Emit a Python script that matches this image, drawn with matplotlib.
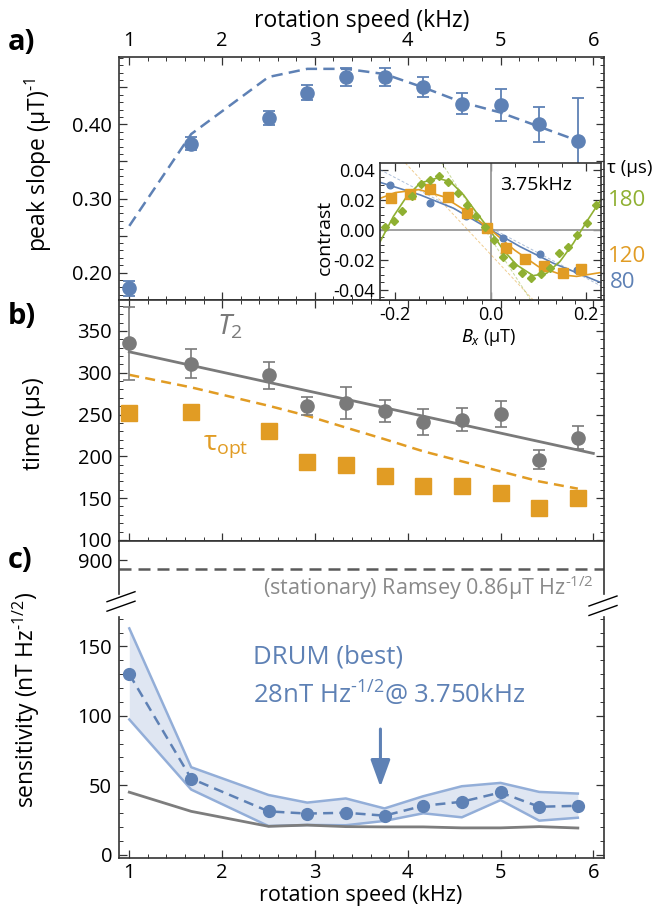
import matplotlib.pyplot as plt
from matplotlib.lines import Line2D
from matplotlib.ticker import FixedLocator, MultipleLocator, FixedFormatter

plt.rcParams['font.family'] = ['Open Sans', 'DejaVu Sans']
plt.rcParams['mathtext.fontset'] = 'custom'
plt.rcParams['mathtext.rm'] = 'Open Sans'
plt.rcParams['mathtext.it'] = 'Noto Sans:italic'
plt.rcParams['axes.unicode_minus'] = False

BLUE = '#5e81b5'
ORANGE = '#e19c24'
GREEN = '#8fb032'
GREY = '#7a7a7a'
FRAME = '#333333'

# rotation speeds (kHz)
speed = [1.0, 1.667, 2.5, 2.917, 3.333, 3.75, 4.167, 4.583, 5.0, 5.417, 5.833]

# a) peak slope
slope = [0.179, 0.374, 0.409, 0.443, 0.464, 0.464, 0.450, 0.428, 0.426, 0.400, 0.378]
slope_err = [0.010, 0.009, 0.0095, 0.010, 0.0117, 0.0124, 0.0135, 0.014, 0.0214, 0.0236, 0.058]
slope_model = [0.263, 0.387, 0.464, 0.475, 0.475, 0.468, 0.450, 0.430, 0.416, 0.397, 0.378]

# b) T2 and tau_opt
t2 = [335, 311, 297, 260, 264, 254, 241, 244, 251, 196, 222]
t2_err = [44, 17.5, 16, 10.6, 19, 13, 16, 14, 15.6, 11.6, 13.7]
t2_fit_x = [1.0, 6.0]
t2_fit_y = [325, 203.5]
tau_model = [297.5, 282.5, 260.5, 248.5, 234.4, 220.5, 206, 194, 182, 170, 161.3]
tau_opt = [252, 253, 230, 193, 190, 177, 165, 165, 156, 138, 150]

# c) sensitivity
ramsey = 860
sens = [130, 54.8, 31.2, 29.6, 30.2, 28.1, 35.2, 38.1, 44.8, 34.5, 35.2]
sens_hi = [163, 63, 43, 37.5, 40.5, 33.3, 42.1, 49.3, 51.7, 45.2, 44]
sens_lo = [97.4, 46.9, 20.6, 21.4, 21.2, 24.3, 29.8, 26.9, 39.3, 24.5, 26.6]
sens_limit = [45, 31.2, 20.4, 21.3, 20.2, 20, 20, 19.3, 19.3, 20.2, 19.2]
best_speed = 3.706
arrow_from, arrow_to = 90.5, 48.8

# inset: contrast vs Bx at 3.75 kHz
in_x80 = [-0.211, -0.128, -0.052, 0.025, 0.103, 0.180]
in_y80 = [0.0296, 0.0178, 0.0093, -0.0051, -0.0162, -0.0267]
in_x120 = [-0.210, -0.169, -0.128, -0.089, -0.049, -0.007, 0.032, 0.071, 0.111, 0.151, 0.190]
in_y120 = [0.0211, 0.024, 0.0271, 0.0218, 0.0115, 0.0011, -0.0122, -0.0193, -0.0238, -0.0284, -0.026]
in_x180 = [-0.221, -0.202, -0.185, -0.165, -0.146, -0.127, -0.108, -0.089, -0.069, -0.050,
           -0.031, -0.012, 0.007, 0.026, 0.046, 0.065, 0.085, 0.105, 0.124, 0.144,
           0.162, 0.181, 0.201, 0.220]
in_y180 = [0.0018, 0.0058, 0.0125, 0.0227, 0.0302, 0.0333, 0.036, 0.0318, 0.0244, 0.0167,
           0.0089, 0.0018, -0.0067, -0.0182, -0.0233, -0.0284, -0.0322, -0.0293, -0.0256, -0.0151,
           -0.0111, -0.0033, 0.0045, 0.0167]
fit80_x = [-0.2316, -0.148, -0.078, 0.0, 0.061, 0.131, 0.2307]
fit80_y = [0.0316, 0.0233, 0.0144, 0.0, -0.0111, -0.0222, -0.0351]
fit120_x = [-0.2316, -0.2, -0.15, -0.1, -0.05, 0.0, 0.05, 0.1, 0.15, 0.18, 0.2307]
fit120_y = [0.021, 0.0248, 0.0268, 0.0222, 0.0122, 0.0, -0.0135, -0.0245, -0.0300, -0.0310, -0.0284]
fit180_x = [-0.2316, -0.204, -0.176, -0.148, -0.113, -0.085, -0.057, -0.029, 0.0, 0.026,
            0.054, 0.089, 0.117, 0.145, 0.173, 0.201, 0.2307]
fit180_y = [-0.0078, 0.0089, 0.0222, 0.0311, 0.0344, 0.0322, 0.0233, 0.0111, -0.001, -0.0133,
            -0.0233, -0.0305, -0.0289, -0.0211, -0.0089, 0.0055, 0.02]
tan80 = ([-0.2316, 0.2307], [0.040, -0.0373])
tan120 = ([-0.179, 0.089], [0.0445, -0.0467])
tan180 = ([-0.1025, 0.0837], [0.0445, -0.0467])

W, H = 654, 910
fig = plt.figure(figsize=(W / 100, H / 100), dpi=100)


def box(left, top, right, bottom):
    return [left / W, 1 - bottom / H, (right - left) / W, (bottom - top) / H]


def px(x, y):
    return x / W, 1 - y / H


def frame(ax, size=14.5):
    for s in ax.spines.values():
        s.set_color(FRAME)
        s.set_linewidth(1.2)
    ax.tick_params(which='both', direction='in', top=True, right=True,
                   color=FRAME, labelsize=size, pad=5)
    ax.tick_params(which='major', length=6, width=0.9)
    ax.tick_params(which='minor', length=3, width=0.7)


XLIM = (0.889, 6.115)

ax_a = fig.add_axes(box(119, 57, 604, 300))
ax_b = fig.add_axes(box(119, 300, 604, 541))
ax_cu = fig.add_axes(box(119, 541, 604, 594))
ax_cl = fig.add_axes(box(119, 617, 604, 858))

for ax in (ax_a, ax_b, ax_cu, ax_cl):
    frame(ax)
    ax.set_xlim(*XLIM)
    ax.xaxis.set_major_locator(MultipleLocator(1))
    ax.xaxis.set_minor_locator(MultipleLocator(0.2))

# ---- a) ----
ax_a.plot(speed, slope_model, color=BLUE, lw=1.8, dashes=(4.5, 2.5))
ax_a.errorbar(speed, slope, yerr=slope_err, fmt='o', ms=9.5, color=BLUE,
              capsize=4, elinewidth=1.3, capthick=1.3)
ax_a.set_ylim(0.163, 0.491)
ax_a.yaxis.set_major_locator(FixedLocator([0.20, 0.25, 0.30, 0.35, 0.40, 0.45]))
ax_a.yaxis.set_major_formatter(FixedFormatter(['0.20', '', '0.30', '', '0.40', '']))
ax_a.yaxis.set_minor_locator(MultipleLocator(0.01))
ax_a.tick_params(axis='x', labeltop=True, labelbottom=False, pad=4)
ax_a.xaxis.set_major_locator(FixedLocator([1, 2, 3, 4, 5, 6]))
ax_a.xaxis.set_major_formatter(FixedFormatter(['1', '2', '3', '4', '5', '6']))
ax_a.xaxis.set_label_position('top')
ax_a.set_xlabel('rotation speed (kHz)', fontsize=16.5, labelpad=3)

# ---- b) ----
ax_b.plot(t2_fit_x, t2_fit_y, color=GREY, lw=2)
ax_b.plot(speed, tau_model, color=ORANGE, lw=1.8, dashes=(4, 2.5))
ax_b.errorbar(speed, t2, yerr=t2_err, fmt='o', ms=9.5, color=GREY,
              capsize=4, elinewidth=1.2, capthick=1.2)
ax_b.plot(speed, tau_opt, 's', ms=11.5, color=ORANGE)
ax_b.set_ylim(98.7, 387)
ax_b.yaxis.set_major_locator(MultipleLocator(50))
ax_b.yaxis.set_minor_locator(MultipleLocator(10))
ax_b.tick_params(axis='x', labelbottom=False)

# ---- c) upper (broken) ----
ax_cu.axhline(ramsey, color='#5a5a5a', lw=1.8, dashes=(4.8, 2.8))
ax_cu.set_ylim(749, 986)
ax_cu.yaxis.set_major_locator(FixedLocator([900]))
ax_cu.yaxis.set_minor_locator(FixedLocator([]))
ax_cu.spines['bottom'].set_visible(False)
ax_cu.tick_params(axis='x', which='both', bottom=False, top=False, labelbottom=False)
ax_cu.tick_params(axis='y', which='both', right=False)

# ---- c) lower ----
ax_cl.fill_between(speed, sens_lo, sens_hi, color='#dfe6f2', lw=0)
ax_cl.plot(speed, sens_hi, color='#93aed8', lw=1.8)
ax_cl.plot(speed, sens_lo, color='#93aed8', lw=1.8)
ax_cl.plot(speed, sens_limit, color='#7d7d7d', lw=2.0)
ax_cl.plot(speed, sens, color=BLUE, lw=1.8, dashes=(4, 2.5), marker='o', ms=8.5)
ax_cl.annotate('', xy=(best_speed, arrow_to), xytext=(best_speed, arrow_from),
               arrowprops=dict(arrowstyle='-|>,head_length=1.65,head_width=0.6',
                               color=BLUE, lw=2.2, shrinkA=0, shrinkB=0))
ax_cl.set_ylim(-2.4, 171.2)
ax_cl.yaxis.set_major_locator(MultipleLocator(50))
ax_cl.yaxis.set_minor_locator(MultipleLocator(10))
ax_cl.spines['top'].set_visible(False)
ax_cl.tick_params(axis='x', which='both', top=False)
ax_cl.tick_params(axis='x', pad=3.5)

# break marks
for x0, x1 in ((107, 135), (589, 617)):
    for dy in (0, 9.5):
        y0 = (601.7 if x0 < 300 else 606) + dy
        fig.add_artist(Line2D([x0 / W, x1 / W], [1 - y0 / H, 1 - (y0 - 10) / H],
                              color='black', lw=1.0, transform=fig.transFigure))

# ---- inset ----
ax_in = fig.add_axes(box(380, 163, 601, 300))
frame(ax_in, size=13)
ax_in.set_facecolor('white')
ax_in.axhline(0, color='#999999', lw=1.3)
ax_in.axvline(0, color='#999999', lw=1.3)
ax_in.plot(*tan80, color=BLUE, lw=0.7, dashes=(3, 2), alpha=0.5)
ax_in.plot(*tan120, color=ORANGE, lw=0.7, dashes=(3, 2), alpha=0.5)
ax_in.plot(*tan180, color=GREEN, lw=0.7, dashes=(3, 2), alpha=0.5)
ax_in.plot(fit80_x, fit80_y, color=BLUE, lw=1.2)
ax_in.plot(fit120_x, fit120_y, color=ORANGE, lw=1.2)
ax_in.plot(fit180_x, fit180_y, color=GREEN, lw=1.2)
ax_in.plot(in_x80, in_y80, 'o', ms=4.8, color=BLUE)
ax_in.plot(in_x120, in_y120, 's', ms=6.5, color=ORANGE)
ax_in.plot(in_x180, in_y180, 'D', ms=4.5, color=GREEN)
ax_in.set_xlim(-0.232, 0.231)
ax_in.set_ylim(-0.0467, 0.0445)
ax_in.xaxis.set_major_locator(FixedLocator([-0.2, 0.0, 0.2]))
ax_in.xaxis.set_major_formatter(FixedFormatter(['-0.2', '0.0', '0.2']))
ax_in.xaxis.set_minor_locator(MultipleLocator(0.05))
ax_in.yaxis.set_major_locator(FixedLocator([-0.04, -0.02, 0.0, 0.02, 0.04]))
ax_in.yaxis.set_major_formatter(FixedFormatter(['-0.04', '-0.02', '0.00', '0.02', '0.04']))
ax_in.yaxis.set_minor_locator(MultipleLocator(0.005))
ax_in.tick_params(axis='x', pad=4)
ax_in.tick_params(axis='y', pad=4)

# ---- texts ----
fig.text(*px(361, 896), 'rotation speed (kHz)', fontsize=15.5, ha='center', va='center')
fig.text(*px(38, 165), r'peak slope (μT)$^{\text{-1}}$', rotation=90,
         fontsize=16.5, ha='center', va='center')
fig.text(*px(34, 424), 'time (μs)', rotation=90, fontsize=16.5, ha='center', va='center')
fig.text(*px(26, 700), r'sensitivity (nT Hz$^{\text{-1/2}}$)', rotation=90,
         fontsize=16.5, ha='center', va='center')
fig.text(*px(325, 237), 'contrast', rotation=90, fontsize=14, ha='center', va='center')
fig.text(*px(489, 337), r'$B_{x}$ (μT)', fontsize=13, ha='center', va='center')
fig.text(*px(500, 185), '3.75kHz', fontsize=14, ha='left', va='center')
fig.text(*px(607, 168), 'τ (μs)', fontsize=13.5, ha='left', va='center')
fig.text(*px(608, 200), '180', fontsize=16, color=GREEN, ha='left', va='center')
fig.text(*px(608, 256), '120', fontsize=16, color=ORANGE, ha='left', va='center')
fig.text(*px(610, 283), '80', fontsize=16, color=BLUE, ha='left', va='center')

fig.text(*px(217, 327), r'$T_{2}$', fontsize=20, color=GREY, ha='left', va='center')
fig.text(*px(203, 446), r'τ$_{\text{opt}}$', fontsize=20, color=ORANGE,
         ha='left', va='center')
fig.text(*px(594, 588), r'(stationary) Ramsey 0.86μT Hz$^{\text{-1/2}}$', fontsize=15.5,
         color='#8a8a8a', ha='right', va='center')
fig.text(*px(253, 657), 'DRUM (best)', fontsize=18.5, color=BLUE, ha='left', va='center')
fig.text(*px(253, 695), r'28nT Hz$^{\text{-1/2}}$@ 3.750kHz', fontsize=18.5, color=BLUE,
         ha='left', va='center')

for label, y in (('a)', 42), ('b)', 317), ('c)', 561)):
    fig.text(*px(8, y), label, fontsize=21, fontweight='bold', ha='left', va='center')

fig.savefig('out.png', dpi=100)
